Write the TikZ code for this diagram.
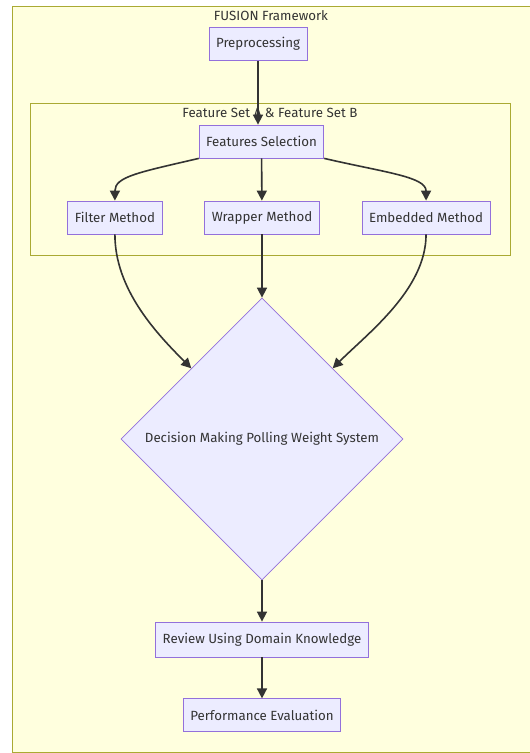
\documentclass[tikz,border=0pt]{standalone}
\usepackage{fontspec}
\setmainfont{Fira Sans}
\usetikzlibrary{arrows.meta,positioning,shapes.geometric}
\definecolor{clfill}{HTML}{FFFFDE}
\definecolor{clline}{HTML}{AAAA33}
\definecolor{ndfill}{HTML}{ECECFF}
\definecolor{ndline}{HTML}{9370DB}
\definecolor{ink}{HTML}{333333}
\begin{document}
\begin{tikzpicture}[x=1pt, y=-1pt, >={Triangle[length=10pt,width=10pt]},
	   font=\fontsize{13.3}{15}\selectfont, text=ink,
	   b/.style={draw=ndline, fill=ndfill, line width=0.8pt, minimum height=33pt, inner xsep=7pt},
	   cl/.style={draw=clline, fill=clfill, line width=0.8pt},
	   e/.style={->, draw=ink, line width=1.6pt}]
	  \useasboundingbox (0,0) rectangle (530,753);
	  % clusters
	  \draw[cl] (12,6) rectangle (533,752);
	  \node (t1) at (271,16) {FUSION Framework};
	  \draw[cl] (30,103) rectangle (510,255);
	  \node (t2) at (270,113) {Feature Set A \& Feature Set B};
	  % nodes
	  \node[b] (pre) at (258,44) {Preprocessing};
	  \node[b] (fs) at (261.5,141.5) {Features Selection};
	  \node[b] (wm) at (262,217.5) {Wrapper Method};
	  \node[b, left=42pt of wm] (fm) {Filter Method};
	  \node[b, right=42pt of wm] (em) {Embedded Method};
	  \node[diamond, aspect=1, draw=ndline, fill=ndfill, line width=0.8pt, inner sep=0pt,
	        minimum width=282pt, minimum height=282pt] (dm) at (262,439) {Decision Making Polling Weight System};
	  \node[b, minimum height=35pt] (rv) at (262,639.5) {Review Using Domain Knowledge};
	  \node[b, below=41pt of rv] (pe) {Performance Evaluation};
	  % edges
	  \draw[e] (pre) -- (pre |- fs.north);
	  \draw[e] (fs.south west) .. controls +(-60,14) and +(0,-24) .. (fm.north);
	  \draw[e] (fs) -- (wm);
	  \draw[e] (fs.south east) .. controls +(60,14) and +(0,-24) .. (em.north);
	  \draw[e] (fm.south) .. controls +(0,55) and +(-35,-35) .. (dm.north west);
	  \draw[e] (wm) -- (dm.north);
	  \draw[e] (em.south) .. controls +(0,55) and +(35,-35) .. (dm.north east);
	  \draw[e] (dm.south) -- (rv);
	  \draw[e] (rv) -- (pe);
	\end{tikzpicture}
\end{document}
